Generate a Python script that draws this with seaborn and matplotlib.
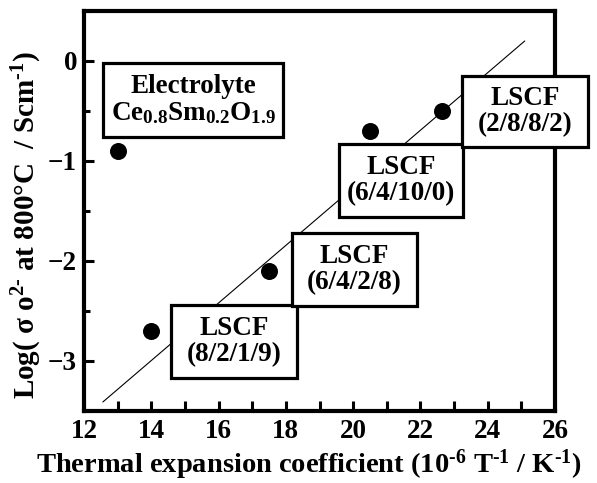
import matplotlib
matplotlib.use("Agg")
from matplotlib import pyplot as plt
from matplotlib.patches import Rectangle
from matplotlib.ticker import MultipleLocator
import pandas as pd
import seaborn as sns

# measured points
tec = [13.0, 14.0, 17.5, 20.5, 22.65]
log_sigma = [-0.9, -2.7, -2.1, -0.7, -0.5]

# guide line end points
fit_x = [12.56, 25.1]
fit_y = [-3.41, 0.2]

# label boxes: text and corners in data units
box_text = [
    "Electrolyte\nCe$_{0.8}$Sm$_{0.2}$O$_{1.9}$",
    "LSCF\n(8/2/1/9)",
    "LSCF\n(6/4/2/8)",
    "LSCF\n(6/4/10/0)",
    "LSCF\n(2/8/8/2)",
]
box_x0 = [12.565, 14.59, 18.18, 19.58, 23.24]
box_x1 = [17.915, 18.33, 21.90, 23.27, 26.98]
box_y0 = [-0.76, -3.17, -2.45, -1.56, -0.86]
box_y1 = [-0.02, -2.44, -1.72, -0.83, -0.15]

sns.set_style("ticks")
plt.rcParams["font.family"] = ["Liberation Serif", "DejaVu Serif"]
plt.rcParams["font.weight"] = "bold"
plt.rcParams["text.color"] = "black"
plt.rcParams["axes.labelcolor"] = "black"
plt.rcParams["mathtext.fontset"] = "custom"
plt.rcParams["mathtext.rm"] = "Liberation Serif:bold"
plt.rcParams["mathtext.it"] = "Liberation Serif:bold"
plt.rcParams["mathtext.bf"] = "Liberation Serif:bold"

df = pd.DataFrame({"tec": tec, "sigma": log_sigma})

fig = plt.figure(figsize=(5.97, 4.83), dpi=100)
ax = fig.add_axes([84 / 597, 1 - 411 / 483, 471 / 597, 400 / 483])

ax.plot(fit_x, fit_y, color="black", lw=0.8, zorder=2)
sns.scatterplot(data=df, x="tec", y="sigma", ax=ax, color="black", s=150,
                edgecolor="black", linewidth=0, zorder=3, clip_on=False)

for t, x0, x1, y0, y1 in zip(box_text, box_x0, box_x1, box_y0, box_y1):
    ax.add_patch(Rectangle((x0, y0), x1 - x0, y1 - y0, facecolor="white",
                           edgecolor="black", lw=2.3, zorder=4, clip_on=False))
    ax.text((x0 + x1) / 2, (y0 + y1) / 2, t, ha="center", va="center",
            fontsize=19.5, fontweight="bold", linespacing=1.1, zorder=5,
            color="black")

ax.set_xlim(12, 26)
ax.set_ylim(-3.5, 0.5)
ax.xaxis.set_major_locator(MultipleLocator(2))
ax.xaxis.set_minor_locator(MultipleLocator(1))
ax.yaxis.set_major_locator(MultipleLocator(1))
ax.yaxis.set_minor_locator(MultipleLocator(0.5))
ax.tick_params(axis="both", which="both", direction="in", width=2.2,
               labelsize=19.5, colors="black")
ax.tick_params(axis="x", which="both", length=7, pad=6)
ax.tick_params(axis="y", which="major", length=7, pad=5)
ax.tick_params(axis="y", which="minor", length=4)
for lab in ax.get_xticklabels() + ax.get_yticklabels():
    lab.set_fontweight("bold")
for sp in ax.spines.values():
    sp.set_linewidth(3)
    sp.set_color("black")

ax.set_xlabel(r"Thermal expansion coefficient (10$^{\text{-6}}$ T$^{\text{-1}}$ / K$^{\text{-1}}$)",
              fontsize=20.5, fontweight="bold", va="top", color="black")
ax.set_ylabel(r"Log( σ o$^{\text{2-}}$ at 800°C  / Scm$^{\text{-1}}$)",
              fontsize=21, fontweight="bold", color="black")
ax.xaxis.set_label_coords(0.478, -0.09)
ax.yaxis.set_label_coords(-0.085, 0.465)

plt.savefig("out.png", dpi=100)
